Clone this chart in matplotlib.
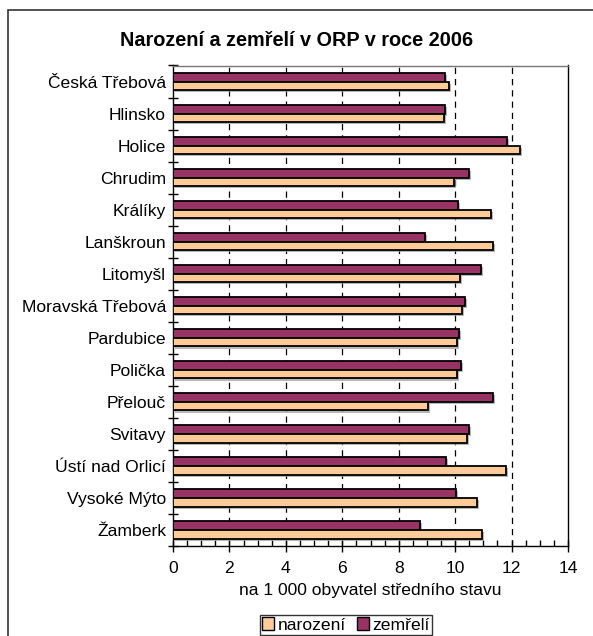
import numpy as np
import matplotlib.pyplot as plt
import matplotlib.patheffects as pe
from matplotlib.patches import Rectangle, Patch

plt.rcParams['font.family'] = ['Liberation Sans', 'DejaVu Sans']

obce = ['Česká Třebová', 'Hlinsko', 'Holice', 'Chrudim', 'Králíky', 'Lanškroun',
        'Litomyšl', 'Moravská Třebová', 'Pardubice', 'Polička', 'Přelouč',
        'Svitavy', 'Ústí nad Orlicí', 'Vysoké Mýto', 'Žamberk']
narozeni = [9.77, 9.61, 12.31, 9.95, 11.28, 11.35, 10.16, 10.23, 10.05, 10.05,
            9.03, 10.43, 11.81, 10.76, 10.94]
zemreli = [9.65, 9.65, 11.84, 10.48, 10.09, 8.92, 10.93, 10.35, 10.15, 10.22,
           11.34, 10.48, 9.66, 10.02, 8.76]
x_ticks = [0, 2, 4, 6, 8, 10, 12, 14]

fs = 12.6
fig = plt.figure(figsize=(5.93, 6.36), dpi=100)
ax = fig.add_axes([173/593, 1 - 546/636, (568 - 173)/593, (546 - 65.5)/636])

# outer chart frame (clipped at right and bottom like the original)
fig.patches.append(Rectangle((8/593, -0.1), 1.2, 1 - 10/636 + 0.1,
                             transform=fig.transFigure, fill=False,
                             edgecolor='#333333', linewidth=1.2))

y = np.arange(len(obce))
h = 0.27
shadow = [pe.withSimplePatchShadow(offset=(1.5, -1.5), shadow_rgbFace='#999999', alpha=0.7)]
ax.barh(y - h/2, zemreli, height=h, color='#993366', edgecolor='black',
        linewidth=1.3, path_effects=shadow, zorder=3)
ax.barh(y + h/2, narozeni, height=h, color='#FFCC99', edgecolor='black',
        linewidth=1.3, path_effects=shadow, zorder=3)

ax.set_xlim(0, 14)
ax.set_ylim(len(obce) - 0.5, -0.5)
ax.set_xticks(x_ticks)
ax.set_xticklabels([str(t) for t in x_ticks], fontsize=fs)
ax.set_xticks(np.arange(0, 14.01, 0.5), minor=True)
ax.tick_params(axis='x', which='major', direction='inout', length=9, width=1, pad=6)
ax.tick_params(axis='x', which='minor', direction='in', length=4, width=1)

ax.set_yticks(y)
ax.set_yticklabels(obce, fontsize=fs)
ax.set_yticks(np.arange(-0.5, len(obce), 1), minor=True)
ax.tick_params(axis='y', which='major', length=0, pad=5)
ax.tick_params(axis='y', which='minor', direction='inout', length=7, width=1)

for t in x_ticks[1:-1]:
    ax.axvline(t, color='black', linestyle=(0, (5, 4)), linewidth=0.9, zorder=1)

for s in ax.spines.values():
    s.set_color('black')
    s.set_linewidth(1)
ax.spines['top'].set_color('#777777')

ax.set_xlabel('na 1 000 obyvatel středního stavu', fontsize=fs, labelpad=5)
fig.text(0.5, 1 - 41/636, 'Narození a zemřelí v ORP v roce 2006',
         ha='center', va='center', fontsize=14.3, fontweight='bold')

handles = [Patch(facecolor='#FFCC99', edgecolor='black', label='narození'),
           Patch(facecolor='#993366', edgecolor='black', label='zemřelí')]
fig.legend(handles=handles, loc='center', bbox_to_anchor=(346/593, 1 - 625/636),
           ncol=2, fontsize=fs, frameon=True, fancybox=False, edgecolor='black',
           handlelength=0.7, handleheight=0.7, handletextpad=0.2, columnspacing=0.6,
           borderpad=0.15, borderaxespad=0)

fig.savefig('out.png', dpi=100)
